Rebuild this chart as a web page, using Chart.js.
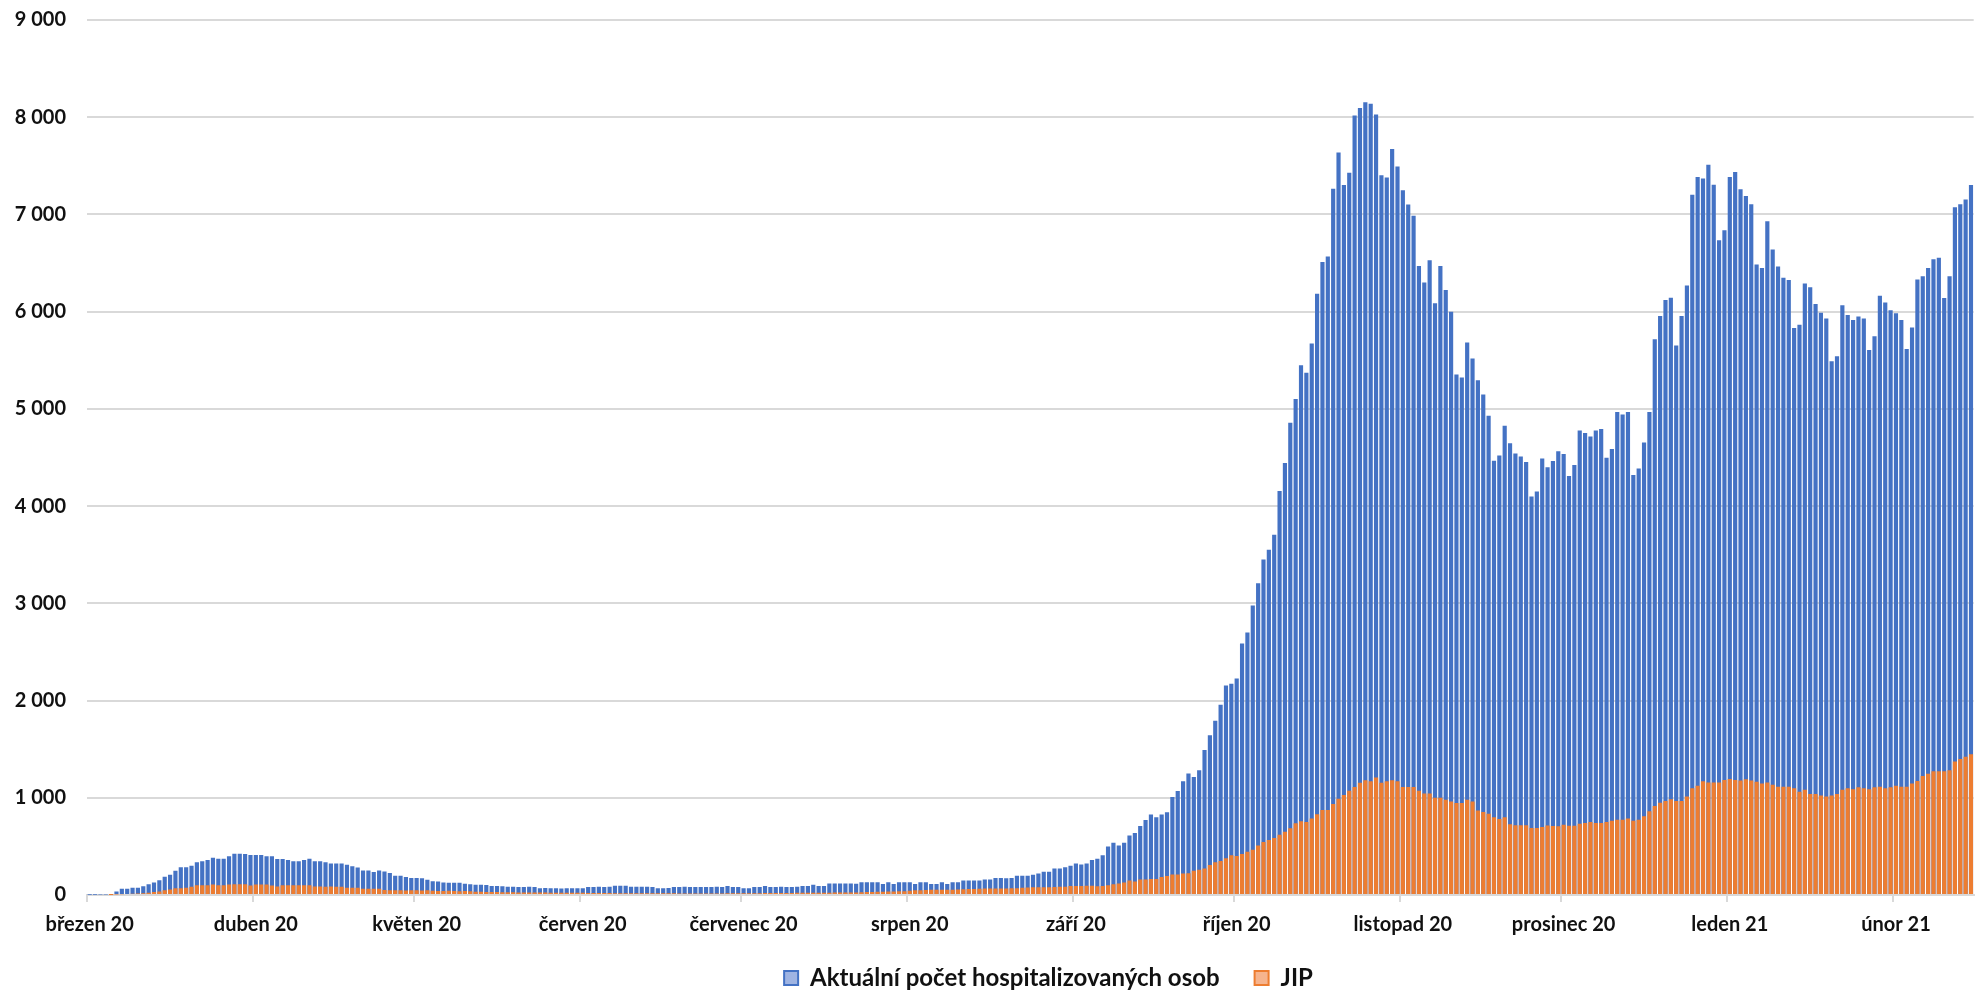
<!DOCTYPE html>
<html>
<head>
<meta charset="utf-8">
<script src="https://cdn.jsdelivr.net/npm/chart.js@4"></script>
<style>
  body { margin: 0; background: #fff; }
  canvas { display: block; }
</style>
</head>
<body>
<canvas id="chart" width="1982" height="993"></canvas>
<script>
// months on the axis (label at the 1st of each month) and how many days of each are shown
const monthNames = ['březen 20', 'duben 20', 'květen 20', 'červen 20', 'červenec 20', 'srpen 20',
  'září 20', 'říjen 20', 'listopad 20', 'prosinec 20', 'leden 21', 'únor 21'];
const monthDays = [31, 30, 31, 30, 31, 31, 30, 31, 30, 31, 31, 15];

const seriesNames = ['Aktuální počet hospitalizovaných osob', 'JIP'];

// daily values, one line per month
const hospitalized = [
  3, 3, 4, 4, 8, 37, 64, 64, 74, 74, 91, 111, 128, 152, 189, 209, 249, 286, 286, 300, 337, 347, 361, 384, 374, 374, 398, 425, 425, 421, 411,
  411, 411, 398, 398, 371, 371, 361, 347, 347, 361, 374, 347, 347, 337, 324, 324, 324, 310, 297, 283, 253, 253, 236, 253, 243, 226, 199, 199, 185, 175,
  175, 172, 158, 142, 140, 128, 127, 126, 125, 115, 110, 105, 106, 104, 93, 92, 91, 84, 84, 83, 82, 84, 83, 70, 71, 69, 70, 68, 70, 69, 70,
  70, 83, 83, 84, 83, 86, 96, 96, 95, 86, 86, 85, 86, 83, 70, 70, 71, 83, 83, 84, 83, 83, 82, 83, 83, 84, 83, 93, 83, 83,
  70, 70, 83, 83, 93, 83, 83, 84, 83, 83, 84, 93, 93, 106, 93, 93, 118, 118, 119, 118, 118, 117, 132, 132, 131, 132, 114, 132, 114, 132, 131,
  132, 114, 132, 132, 114, 114, 132, 114, 132, 132, 150, 150, 149, 150, 160, 160, 174, 174, 173, 174, 198, 198, 197, 209, 220, 238, 238, 272, 272, 286, 300,
  325, 315, 325, 360, 372, 410, 498, 538, 510, 538, 611, 639, 711, 771, 828, 800, 828, 852, 1008, 1069, 1169, 1250, 1213, 1282, 1491, 1643, 1792, 1957, 2154, 2174,
  2226, 2588, 2700, 2977, 3206, 3451, 3552, 3705, 4155, 4444, 4858, 5103, 5448, 5372, 5673, 6184, 6512, 6567, 7265, 7636, 7303, 7429, 8018, 8094, 8154, 8138, 8029, 7402, 7380, 7674, 7494,
  7249, 7102, 6987, 6469, 6300, 6529, 6087, 6469, 6223, 5999, 5355, 5322, 5682, 5518, 5295, 5148, 4930, 4466, 4521, 4826, 4646, 4542, 4510, 4455, 4100, 4150, 4490, 4400, 4465, 4564,
  4535, 4309, 4424, 4779, 4751, 4717, 4779, 4793, 4497, 4588, 4967, 4943, 4967, 4320, 4386, 4654, 4967, 5716, 5956, 6120, 6144, 5651, 5956, 6270, 7203, 7385, 7371, 7511, 7306, 6735, 6838,
  7385, 7436, 7258, 7190, 7104, 6485, 6450, 6929, 6639, 6465, 6350, 6325, 5831, 5866, 6290, 6250, 6080, 5990, 5930, 5491, 5541, 6065, 5965, 5915, 5950, 5930, 5606, 5746, 6165, 6095, 6015,
  5985, 5915, 5616, 5836, 6330, 6365, 6450, 6540, 6555, 6140, 6365, 7074, 7104, 7154, 7303
];

const jip = [
  0, 0, 0, 0, 1, 4, 8, 10, 12, 15, 19, 22, 30, 35, 50, 57, 70, 70, 74, 84, 101, 101, 101, 108, 101, 101, 108, 111, 111, 111, 98,
  108, 108, 108, 98, 88, 101, 101, 101, 101, 101, 101, 88, 88, 84, 88, 84, 84, 74, 74, 74, 64, 64, 64, 64, 52, 50, 48, 50, 47, 50,
  48, 46, 48, 45, 40, 40, 44, 40, 38, 40, 38, 34, 33, 32, 30, 30, 29, 28, 28, 27, 27, 26, 26, 25, 25, 24, 24, 24, 23, 23, 22,
  22, 21, 21, 20, 20, 20, 19, 19, 19, 18, 18, 18, 18, 17, 17, 17, 17, 17, 16, 16, 16, 16, 16, 15, 15, 16, 16, 17, 17, 18,
  18, 18, 19, 19, 20, 20, 20, 21, 21, 21, 22, 22, 22, 23, 23, 24, 24, 25, 25, 26, 26, 27, 28, 30, 32, 33, 34, 35, 36, 38, 38,
  45, 48, 50, 52, 55, 55, 55, 54, 55, 56, 58, 62, 62, 64, 66, 68, 68, 67, 68, 70, 70, 75, 78, 79, 79, 80, 79, 82, 84, 86, 92,
  92, 92, 94, 96, 90, 92, 100, 110, 118, 128, 150, 140, 160, 160, 165, 165, 185, 195, 210, 210, 220, 225, 250, 260, 272, 309, 338, 350, 378, 410,
  402, 422, 446, 466, 510, 546, 567, 587, 619, 651, 687, 739, 759, 751, 788, 830, 875, 875, 935, 990, 1028, 1072, 1110, 1154, 1181, 1170, 1208, 1154, 1170, 1181, 1170,
  1110, 1110, 1110, 1072, 1045, 1045, 1001, 1001, 979, 963, 947, 947, 979, 963, 870, 854, 837, 799, 782, 799, 728, 717, 717, 717, 690, 690, 700, 715, 710, 706,
  723, 712, 712, 733, 740, 751, 740, 740, 751, 765, 775, 775, 786, 765, 775, 810, 862, 915, 949, 966, 984, 966, 966, 1012, 1099, 1123, 1169, 1158, 1158, 1158, 1182,
  1193, 1182, 1178, 1190, 1178, 1165, 1148, 1158, 1133, 1113, 1113, 1113, 1098, 1063, 1083, 1038, 1038, 1023, 1013, 1023, 1038, 1083, 1098, 1088, 1108, 1098, 1088, 1108, 1113, 1098, 1108,
  1123, 1113, 1113, 1148, 1173, 1223, 1248, 1273, 1273, 1273, 1283, 1373, 1398, 1423, 1448
];

// one category per day, the month name only on day 1
const dayLabels = [];
const monthStarts = [];
monthDays.forEach((n, m) => {
  monthStarts.push(dayLabels.length);
  for (let d = 0; d < n; d++) dayLabels.push(d === 0 ? monthNames[m] : '');
});

const barColors = ['#4472c4', '#ed7d31'];
const legendFill = ['#9fb4e2', '#f6b48e'];
const axisFont = { family: 'Lato', size: 20, weight: 'bold' };

function spaced(v) {
  return String(v).replace(/\B(?=(\d{3})+(?!\d))/g, ' ');
}

// the legend in the original sits centred under the plot and close to the axis labels
const shiftLegend = {
  id: 'shiftLegend',
  afterLayout(chart) {
    chart.legend.left += 115;
    chart.legend.top -= 9;
  }
};

new Chart(document.getElementById('chart'), {
  type: 'bar',
  data: {
    labels: dayLabels,
    datasets: [
      { label: seriesNames[0], data: hospitalized, backgroundColor: barColors[0], order: 1 },
      { label: seriesNames[1], data: jip, backgroundColor: barColors[1], order: 0 }
    ]
  },
  options: {
    responsive: false,
    animation: false,
    layout: { padding: { top: 20, left: 0, right: 0, bottom: -16 } },
    datasets: {
      bar: { grouped: false, barPercentage: 0.78, categoryPercentage: 1, borderWidth: 0 }
    },
    scales: {
      x: {
        grid: {
          offset: true,
          drawOnChartArea: false,
          drawTicks: true,
          tickLength: 7,
          lineWidth: 2,
          color: (ctx) => monthStarts.includes(ctx.index) ? '#d9d9d9' : 'rgba(0,0,0,0)'
        },
        border: { display: true, color: '#d9d9d9', width: 2 },
        ticks: {
          autoSkip: false,
          maxRotation: 0,
          minRotation: 0,
          padding: 11,
          color: '#111',
          font: axisFont,
          callback: (v, i) => dayLabels[i]
        },
        afterFit(scale) { scale.height = 45; }
      },
      y: {
        min: 0,
        max: 9000,
        // invisible tick marks keep the labels off the plot without padding the top
        grid: { color: '#d9d9d9', lineWidth: 2, drawTicks: true, tickLength: 21, tickColor: 'rgba(0,0,0,0)' },
        border: { display: false },
        ticks: {
          stepSize: 1000,
          padding: 0,
          color: '#111',
          font: axisFont,
          callback: (v) => spaced(v)
        },
        afterFit(scale) { scale.width = 87; }
      }
    },
    plugins: {
      tooltip: { enabled: false },
      legend: {
        position: 'bottom',
        labels: {
          boxWidth: 14,
          boxHeight: 14,
          padding: 35,
          color: '#111',
          font: { family: 'Lato', size: 24, weight: 'bold' },
          sort: (a, b) => a.datasetIndex - b.datasetIndex,
          generateLabels(chart) {
            const items = Chart.defaults.plugins.legend.labels.generateLabels(chart);
            items.forEach((item) => {
              item.fillStyle = legendFill[item.datasetIndex];
              item.strokeStyle = barColors[item.datasetIndex];
              item.lineWidth = 2;
            });
            return items;
          }
        }
      }
    }
  },
  plugins: [shiftLegend]
});
</script>
</body>
</html>
